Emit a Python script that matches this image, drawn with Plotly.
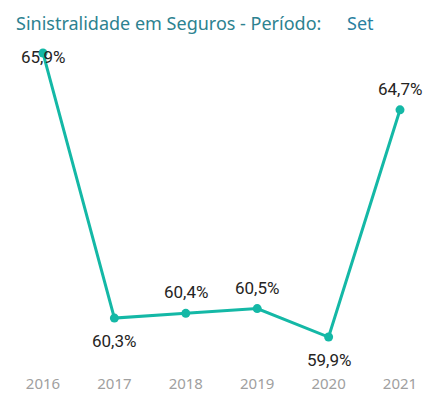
import plotly.graph_objects as go

years = [2016, 2017, 2018, 2019, 2020, 2021]
sinistralidade = [65.9, 60.3, 60.4, 60.5, 59.9, 64.7]
label_side = ["center", "below", "above", "above", "below", "above"]
title_text = "Sinistralidade em Seguros - Período:"
period_text = "Set"

W, H = 426, 403
MB = 30
PLOT_H = H - MB
SHIFT = {"center": -4, "below": -23, "above": 21}


def paper_y(px):
    return (PLOT_H - px) / PLOT_H


fig = go.Figure()
fig.add_trace(go.Scatter(
    x=years, y=sinistralidade,
    mode="lines+markers",
    line=dict(color="#14B8A6", width=3),
    marker=dict(color="#14B8A6", size=9),
    cliponaxis=False,
    hoverinfo="skip",
))

for yr, val, side in zip(years, sinistralidade, label_side):
    fig.add_annotation(
        x=yr, y=val, text=f"{val:.1f}%".replace(".", ","),
        showarrow=False, yshift=SHIFT[side],
        xanchor="center", yanchor="middle",
        font=dict(family="Roboto", size=17, color="#252423"),
    )

fig.update_layout(
    width=W, height=H,
    margin=dict(l=0, r=0, t=0, b=MB),
    paper_bgcolor="white", plot_bgcolor="white",
    separators=",.",
    showlegend=False,
    xaxis=dict(
        range=[2015.398, 2021.364],
        tickvals=years, ticktext=[str(y) for y in years],
        showgrid=False, zeroline=False, showline=False,
        tickfont=dict(family="Noto Sans", size=15, color="#a0a0a0"),
        ticks="", ticklen=0,
    ),
    yaxis=dict(
        range=[59.14, 67.02],
        visible=False, showgrid=False, zeroline=False,
    ),
)

fig.add_annotation(text=title_text, xref="paper", yref="paper",
                   x=14 / W, y=paper_y(23),
                   xanchor="left", yanchor="middle", showarrow=False,
                   font=dict(family="Noto Sans", size=18, color="#2D8290"))
fig.add_annotation(text=period_text, xref="paper", yref="paper",
                   x=345 / W, y=paper_y(23),
                   xanchor="left", yanchor="middle", showarrow=False,
                   font=dict(family="Noto Sans", size=18, color="#2A7FA0"))

fig.write_html("out.html", config={"displayModeBar": False},
               post_script="document.body.style.margin='0px';")
